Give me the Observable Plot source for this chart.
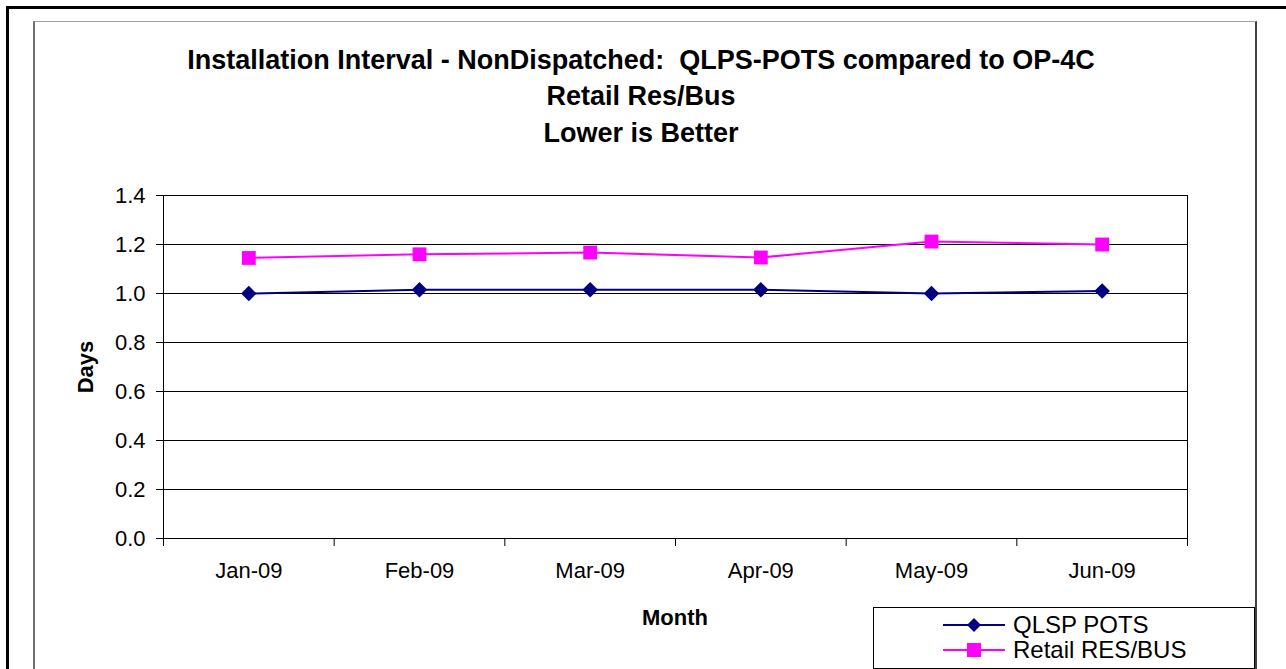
<!DOCTYPE html>
<html>
<head>
<meta charset="utf-8">
<script src="https://cdn.jsdelivr.net/npm/d3@7"></script>
<script src="https://cdn.jsdelivr.net/npm/@observablehq/plot@0.6"></script>
<style>
  html, body { margin:0; padding:0; background:#fff; }
  body { width:1286px; height:669px; overflow:hidden; position:relative; font-family:"Liberation Sans", Arial, sans-serif; color:#000; }
  .abs { position:absolute; }
  .ctext { position:absolute; transform:translate(-50%,-50%); line-height:1; white-space:pre; }
  .ltext { position:absolute; transform:translateY(-50%); line-height:1; white-space:pre; }
</style>
</head>
<body>
<div class="abs" style="left:6px;top:6px;width:1400px;height:800px;border:3px solid #000;"></div>
<div class="abs" style="left:33px;top:21px;width:1220px;height:800px;border-top:1px solid #a0a0a0;border-left:2px solid #707070;border-right:2px solid #404040;"></div>
<div id="chart" class="abs" style="left:0;top:0;"></div>
<div id="titles"></div>
<div id="legend"></div>
<script>
const months = ["Jan-09", "Feb-09", "Mar-09", "Apr-09", "May-09", "Jun-09"];
const qlspPots = [1.00, 1.015, 1.015, 1.015, 1.00, 1.01];
const retailResBus = [1.145, 1.16, 1.167, 1.147, 1.212, 1.20];
const yTicks = [0, 0.2, 0.4, 0.6, 0.8, 1.0, 1.2, 1.4];
const seriesNames = ["QLSP POTS", "Retail RES/BUS"];
const seriesColors = ["#000080", "#FF00FF"];
const titleLines = ["Installation Interval - NonDispatched:  QLPS-POTS compared to OP-4C", "Retail Res/Bus", "Lower is Better"];
const xLabel = "Month";
const yLabel = "Days";

const xPos = (d, i) => i + 0.5;

const chart = Plot.plot({
  width: 1286,
  height: 669,
  marginLeft: 163,
  marginRight: 99,
  marginTop: 195,
  marginBottom: 131,
  x: { domain: [0, months.length], axis: null },
  y: { domain: [0, 1.4], axis: null },
  style: { fontFamily: "'Liberation Sans', Arial, sans-serif", fontSize: "22px", background: "transparent", color: "#000" },
  marks: [
    Plot.ruleY(yTicks, { stroke: "#000", strokeWidth: 1 }),
    Plot.frame({ stroke: "#000", strokeWidth: 1 }),
    Plot.axisY({ ticks: yTicks, tickSize: 7, tickPadding: 11, tickFormat: d3.format(".1f"), label: null, stroke: "#000", fontSize: 22 }),
    Plot.axisX({ ticks: d3.range(months.length + 1), tickSize: 8, tickFormat: () => "", label: null, stroke: "#000" }),
    Plot.axisX({ ticks: months.map((m, i) => i + 0.5), tickSize: 0, tickPadding: 24, tickFormat: v => months[Math.floor(v)], label: null, fontSize: 22 }),
    Plot.line(qlspPots, { x: xPos, y: d => d, stroke: seriesColors[0], strokeWidth: 2 }),
    Plot.line(retailResBus, { x: xPos, y: d => d, stroke: seriesColors[1], strokeWidth: 2 }),
    Plot.dot(qlspPots, { x: xPos, y: d => d, symbol: "diamond2", r: 7, fill: seriesColors[0], stroke: "none" }),
    Plot.dot(retailResBus, { x: xPos, y: d => d, symbol: "square", r: 7.8, fill: seriesColors[1], stroke: "none" })
  ]
});
document.getElementById("chart").appendChild(chart);

// Titles
const titles = document.getElementById("titles");
const titleY = [60, 96, 132.5];
titleLines.forEach((t, i) => {
  const d = document.createElement("div");
  d.className = "ctext";
  d.style.left = "641px";
  d.style.top = titleY[i] + "px";
  d.style.fontSize = "27px";
  d.style.fontWeight = "bold";
  d.textContent = t;
  titles.appendChild(d);
});
const xl = document.createElement("div");
xl.className = "ctext";
xl.style.left = "675px"; xl.style.top = "617.5px";
xl.style.fontSize = "22px"; xl.style.fontWeight = "bold";
xl.textContent = xLabel;
titles.appendChild(xl);
const yl = document.createElement("div");
yl.className = "ctext";
yl.style.left = "86px"; yl.style.top = "367px";
yl.style.fontSize = "22px"; yl.style.fontWeight = "bold";
yl.style.transform = "translate(-50%,-50%) rotate(-90deg)";
yl.textContent = yLabel;
titles.appendChild(yl);

// Legend
const legend = document.getElementById("legend");
const box = document.createElement("div");
box.className = "abs";
Object.assign(box.style, { left: "873px", top: "607px", width: "382px", height: "62px", border: "1px solid #000", boxSizing: "border-box", background: "#fff" });
legend.appendChild(box);
const rowY = [625, 650];
const symbols = ["diamond", "square"];
seriesNames.forEach((name, i) => {
  const svg = d3.create("svg").attr("width", 64).attr("height", 20)
    .style("position", "absolute").style("left", "942px").style("top", (rowY[i] - 10) + "px");
  svg.append("line").attr("x1", 1).attr("x2", 63).attr("y1", 10).attr("y2", 10)
    .attr("stroke", seriesColors[i]).attr("stroke-width", 2);
  if (symbols[i] === "diamond") {
    svg.append("path").attr("d", "M32,3L39,10L32,17L25,10Z").attr("fill", seriesColors[i]);
  } else {
    svg.append("rect").attr("x", 25).attr("y", 3).attr("width", 14).attr("height", 14).attr("fill", seriesColors[i]);
  }
  legend.appendChild(svg.node());
  const t = document.createElement("div");
  t.className = "ltext";
  t.style.left = "1013px";
  t.style.top = rowY[i] + "px";
  t.style.fontSize = "24px";
  t.textContent = name;
  legend.appendChild(t);
});
</script>
</body>
</html>
